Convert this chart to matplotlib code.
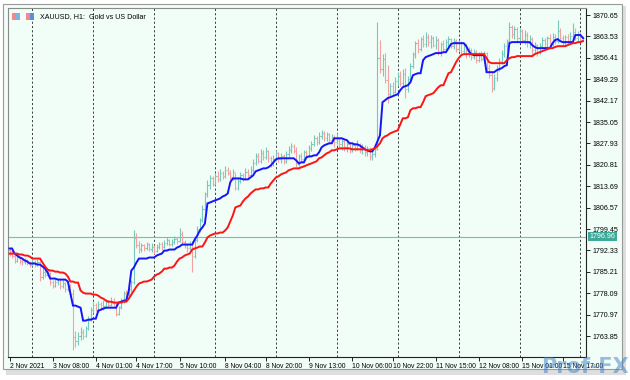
import matplotlib

matplotlib.use("Agg")

import matplotlib.pyplot as plt
import numpy as np
import pandas as pd
from matplotlib.patches import Rectangle

# --- data (XAUUSD H1, 2 Nov 15:00 .. 16 Nov 01:00) ---
first_bar = "2021-11-02 15:00"
last_bar = "2021-11-16 01:00"

opens = [
    1792.5, 1792.0, 1790.5, 1789.0, 1790.2, 1789.0, 1788.4, 1789.3, 1788.1, 1787.6,
    1788.6, 1787.9, 1788.5, 1783.5, 1785.2, 1784.1, 1785.0, 1781.8, 1780.6, 1781.9,
    1782.7, 1780.4, 1781.6, 1779.4, 1780.9, 1777.8, 1763.5, 1762.1, 1763.9, 1765.2,
    1764.0, 1766.6, 1769.8, 1772.5, 1774.2, 1772.7, 1774.6, 1773.1, 1774.0, 1775.3,
    1774.1, 1775.5, 1774.8, 1771.3, 1773.4, 1775.9, 1778.2, 1777.4, 1779.6, 1781.9,
    1796.4, 1794.3, 1792.7, 1794.0, 1793.1, 1794.4, 1792.8, 1793.6, 1792.2, 1793.5,
    1794.6, 1793.4, 1794.9, 1795.7, 1794.5, 1795.2, 1796.1, 1795.4, 1797.9, 1795.2,
    1794.0, 1793.2, 1794.4, 1790.6, 1795.8, 1799.5, 1802.4, 1806.3, 1811.0, 1814.2,
    1816.5, 1814.6, 1817.2, 1816.0, 1818.1, 1817.0, 1819.2, 1818.1, 1816.7, 1818.5,
    1813.2, 1815.6, 1817.4, 1816.1, 1818.6, 1817.5, 1819.1, 1821.6, 1823.9, 1822.2,
    1824.8, 1823.5, 1825.4, 1823.0, 1821.4, 1822.9, 1824.6, 1822.8, 1823.9, 1822.1,
    1824.3, 1825.9, 1827.1, 1825.4, 1821.2, 1823.6, 1822.8, 1825.0, 1823.9, 1826.4,
    1827.9, 1829.6, 1828.3, 1830.4, 1831.5, 1829.8, 1831.0, 1829.0, 1830.2, 1828.5,
    1829.7, 1827.6, 1828.9, 1826.7, 1827.8, 1825.9, 1827.4, 1826.2, 1827.5, 1825.8,
    1826.9, 1825.1, 1826.3, 1823.7, 1824.3, 1826.0, 1856.4, 1852.6, 1856.0, 1848.9,
    1844.5, 1847.0, 1845.2, 1848.6, 1850.4, 1847.9, 1851.2, 1846.0, 1849.5, 1853.8,
    1857.6, 1861.2, 1859.4, 1862.6, 1861.0, 1863.4, 1861.7, 1863.0, 1860.8, 1862.5,
    1858.6, 1860.9, 1859.3, 1861.6, 1862.8, 1860.5, 1862.0, 1859.4, 1861.3, 1858.7,
    1860.6, 1857.6, 1859.0, 1856.7, 1858.4, 1855.8, 1857.6, 1856.2, 1857.9, 1853.2,
    1850.6, 1846.5, 1849.8, 1852.9, 1855.4, 1857.8, 1860.3, 1862.0, 1866.8, 1864.2,
    1866.0, 1863.1, 1865.3, 1862.4, 1864.1, 1861.2, 1862.8, 1859.0, 1860.7, 1858.5,
    1860.4, 1862.5, 1860.1, 1862.9, 1861.0, 1863.5, 1862.1, 1865.4, 1863.0, 1861.6,
    1863.2, 1862.0, 1863.8, 1865.1, 1863.0, 1864.2, 1862.5,
]

closes = [
    1792.0, 1790.5, 1789.0, 1790.2, 1789.0, 1788.4, 1789.3, 1788.1, 1787.6, 1788.6,
    1787.9, 1788.5, 1783.5, 1785.2, 1784.1, 1785.0, 1781.8, 1780.6, 1781.9, 1782.7,
    1780.4, 1781.6, 1779.4, 1780.9, 1777.8, 1763.5, 1762.1, 1763.9, 1765.2, 1764.0,
    1766.6, 1769.8, 1772.5, 1774.2, 1772.7, 1774.6, 1773.1, 1774.0, 1775.3, 1774.1,
    1775.5, 1774.8, 1771.3, 1773.4, 1775.9, 1778.2, 1777.4, 1779.6, 1781.9, 1796.4,
    1794.3, 1792.7, 1794.0, 1793.1, 1794.4, 1792.8, 1793.6, 1792.2, 1793.5, 1794.6,
    1793.4, 1794.9, 1795.7, 1794.5, 1795.2, 1796.1, 1795.4, 1797.9, 1795.2, 1794.0,
    1793.2, 1794.4, 1790.6, 1795.8, 1799.5, 1802.4, 1806.3, 1811.0, 1814.2, 1816.5,
    1814.6, 1817.2, 1816.0, 1818.1, 1817.0, 1819.2, 1818.1, 1816.7, 1818.5, 1813.2,
    1815.6, 1817.4, 1816.1, 1818.6, 1817.5, 1819.1, 1821.6, 1823.9, 1822.2, 1824.8,
    1823.5, 1825.4, 1823.0, 1821.4, 1822.9, 1824.6, 1822.8, 1823.9, 1822.1, 1824.3,
    1825.9, 1827.1, 1825.4, 1821.2, 1823.6, 1822.8, 1825.0, 1823.9, 1826.4, 1827.9,
    1829.6, 1828.3, 1830.4, 1831.5, 1829.8, 1831.0, 1829.0, 1830.2, 1828.5, 1829.7,
    1827.6, 1828.9, 1826.7, 1827.8, 1825.9, 1827.4, 1826.2, 1827.5, 1825.8, 1826.9,
    1825.1, 1826.3, 1823.7, 1824.3, 1826.0, 1856.4, 1852.6, 1856.0, 1848.9, 1844.5,
    1847.0, 1845.2, 1848.6, 1850.4, 1847.9, 1851.2, 1846.0, 1849.5, 1853.8, 1857.6,
    1861.2, 1859.4, 1862.6, 1861.0, 1863.4, 1861.7, 1863.0, 1860.8, 1862.5, 1858.6,
    1860.9, 1859.3, 1861.6, 1862.8, 1860.5, 1862.0, 1859.4, 1861.3, 1858.7, 1860.6,
    1857.6, 1859.0, 1856.7, 1858.4, 1855.8, 1857.6, 1856.2, 1857.9, 1853.2, 1850.6,
    1846.5, 1849.8, 1852.9, 1855.4, 1857.8, 1860.3, 1862.0, 1866.8, 1864.2, 1866.0,
    1863.1, 1865.3, 1862.4, 1864.1, 1861.2, 1862.8, 1859.0, 1860.7, 1858.5, 1860.4,
    1862.5, 1860.1, 1862.9, 1861.0, 1863.5, 1862.1, 1865.4, 1863.0, 1861.6, 1863.2,
    1862.0, 1863.8, 1865.1, 1863.0, 1864.2, 1862.5, 1863.0,
]

highs = [
    1793.0, 1792.4, 1791.0, 1791.0, 1790.6, 1789.8, 1790.0, 1789.6, 1788.8, 1789.5,
    1789.2, 1789.4, 1788.8, 1786.5, 1786.0, 1786.3, 1785.2, 1782.5, 1782.8, 1783.3,
    1782.9, 1782.4, 1782.0, 1781.6, 1781.2, 1779.5, 1765.5, 1765.2, 1766.8, 1766.2,
    1767.3, 1770.5, 1773.6, 1775.3, 1775.0, 1775.6, 1775.2, 1775.8, 1776.2, 1776.0,
    1777.0, 1776.5, 1775.3, 1774.0, 1776.6, 1779.0, 1779.2, 1781.0, 1782.5, 1799.0,
    1798.3, 1795.5, 1794.9, 1794.6, 1795.1, 1794.9, 1794.7, 1794.0, 1794.4, 1795.3,
    1795.0, 1795.8, 1796.7, 1796.2, 1796.0, 1797.0, 1796.8, 1799.7, 1798.8, 1795.9,
    1794.8, 1795.5, 1795.6, 1796.4, 1800.6, 1803.3, 1807.4, 1811.9, 1815.7, 1817.6,
    1817.2, 1818.2, 1818.9, 1819.3, 1818.9, 1820.6, 1820.0, 1819.0, 1819.5, 1818.2,
    1816.8, 1818.6, 1818.2, 1819.8, 1819.3, 1820.4, 1822.7, 1824.8, 1824.6, 1826.1,
    1825.6, 1826.6, 1825.8, 1823.6, 1824.1, 1825.6, 1825.0, 1824.7, 1824.3, 1825.5,
    1827.1, 1828.0, 1827.6, 1826.7, 1824.5, 1824.8, 1825.9, 1825.7, 1827.4, 1828.6,
    1830.8, 1830.3, 1831.6, 1832.3, 1832.0, 1831.9, 1831.4, 1831.2, 1830.8, 1831.3,
    1830.2, 1829.8, 1829.3, 1828.9, 1828.4, 1828.3, 1828.0, 1829.0, 1828.1, 1827.7,
    1827.4, 1827.2, 1826.6, 1825.4, 1826.9, 1868.3, 1862.3, 1857.6, 1858.0, 1854.0,
    1848.2, 1848.5, 1849.9, 1851.6, 1852.0, 1852.6, 1853.0, 1850.4, 1854.6, 1858.5,
    1862.0, 1862.8, 1863.5, 1864.0, 1865.0, 1864.4, 1864.1, 1863.8, 1863.6, 1863.1,
    1861.7, 1862.2, 1862.6, 1863.7, 1863.0, 1862.9, 1862.6, 1862.3, 1862.0, 1861.5,
    1861.2, 1860.1, 1859.8, 1859.4, 1859.1, 1858.5, 1858.7, 1858.8, 1858.4, 1854.5,
    1852.0, 1851.0, 1854.0, 1856.5, 1858.9, 1861.2, 1862.8, 1868.3, 1867.5, 1867.0,
    1866.8, 1866.2, 1866.0, 1865.6, 1865.1, 1863.9, 1863.5, 1861.8, 1861.1, 1861.2,
    1863.4, 1863.0, 1863.8, 1864.2, 1864.6, 1864.3, 1869.0, 1866.2, 1864.0, 1864.1,
    1864.5, 1864.9, 1868.0, 1866.5, 1865.2, 1864.9, 1863.8,
]

lows = [
    1790.5, 1789.8, 1788.2, 1788.5, 1788.0, 1787.5, 1787.9, 1787.4, 1786.8, 1787.2,
    1786.9, 1787.3, 1782.3, 1783.0, 1783.4, 1783.7, 1781.0, 1779.7, 1780.1, 1780.9,
    1779.6, 1779.8, 1778.5, 1778.8, 1777.0, 1759.3, 1760.3, 1761.0, 1762.6, 1762.8,
    1763.5, 1765.9, 1768.8, 1771.6, 1772.1, 1772.0, 1772.4, 1772.6, 1773.2, 1773.4,
    1773.8, 1773.9, 1770.6, 1770.9, 1772.8, 1775.0, 1776.1, 1776.8, 1778.6, 1781.3,
    1793.1, 1791.5, 1791.9, 1792.0, 1792.5, 1792.0, 1791.8, 1791.2, 1791.8, 1792.9,
    1792.6, 1793.0, 1794.0, 1793.8, 1793.9, 1794.6, 1794.5, 1795.0, 1794.5, 1793.0,
    1791.8, 1792.5, 1785.2, 1789.9, 1795.1, 1798.6, 1801.8, 1805.6, 1810.2, 1812.9,
    1813.8, 1814.0, 1815.2, 1815.4, 1816.1, 1816.5, 1817.3, 1815.9, 1815.8, 1812.3,
    1812.6, 1814.7, 1815.3, 1815.7, 1816.6, 1816.9, 1818.4, 1820.8, 1821.3, 1821.5,
    1822.6, 1822.9, 1821.8, 1820.2, 1820.6, 1822.1, 1821.9, 1821.4, 1821.0, 1821.6,
    1823.4, 1824.9, 1824.6, 1820.0, 1820.5, 1821.7, 1822.0, 1823.0, 1823.5, 1825.4,
    1827.0, 1827.5, 1827.9, 1829.5, 1828.9, 1828.7, 1827.6, 1828.1, 1826.9, 1827.8,
    1826.5, 1825.9, 1825.4, 1825.0, 1824.7, 1825.2, 1825.3, 1825.6, 1824.6, 1824.3,
    1823.8, 1823.9, 1822.4, 1822.3, 1823.5, 1825.6, 1851.3, 1850.5, 1848.1, 1841.3,
    1843.4, 1844.0, 1844.6, 1847.2, 1847.0, 1846.8, 1843.0, 1845.1, 1848.4, 1852.9,
    1856.4, 1858.0, 1858.6, 1859.9, 1860.1, 1860.4, 1859.6, 1859.9, 1859.5, 1857.4,
    1857.0, 1858.2, 1858.5, 1860.1, 1859.6, 1859.2, 1858.4, 1858.6, 1857.5, 1857.9,
    1856.5, 1856.8, 1855.8, 1855.9, 1854.7, 1855.1, 1855.3, 1855.4, 1852.0, 1849.6,
    1845.0, 1845.7, 1848.6, 1851.9, 1854.4, 1856.6, 1858.7, 1860.9, 1863.1, 1862.8,
    1861.7, 1862.0, 1861.3, 1861.0, 1860.0, 1859.6, 1857.4, 1857.6, 1857.0, 1857.8,
    1859.5, 1858.9, 1859.4, 1859.6, 1860.5, 1860.9, 1861.3, 1862.1, 1860.2, 1860.5,
    1861.0, 1861.2, 1862.3, 1862.3, 1862.0, 1861.6, 1861.9,
]

# blue (fast) and red (slow) indicator lines
blue_line = [
    1793.0, 1793.0, 1791.3, 1790.65, 1790.0, 1789.65, 1789.0, 1788.65, 1788.0, 1788.0,
    1788.0, 1787.65, 1787.65, 1787.0, 1786.3, 1785.0, 1783.0, 1783.0, 1783.0, 1782.65,
    1782.65, 1782.65, 1782.65, 1782.0, 1778.0, 1774.0, 1774.0, 1773.65, 1773.3, 1769.0,
    1769.0, 1769.3, 1769.3, 1769.65, 1769.65, 1772.3, 1772.65, 1773.0, 1773.3, 1773.3,
    1773.3, 1773.3, 1773.3, 1775.0, 1775.3, 1775.65, 1775.65, 1779.0, 1785.65, 1786.65,
    1788.3, 1789.65, 1789.65, 1789.65, 1789.65, 1790.0, 1790.0, 1790.0, 1790.65, 1791.0,
    1791.3, 1792.3, 1792.3, 1792.65, 1792.65, 1792.65, 1793.3, 1793.65, 1794.3, 1794.3,
    1794.3, 1794.3, 1794.3, 1796.0, 1797.3, 1799.0, 1800.0, 1801.3, 1808.0, 1808.3,
    1808.65, 1809.0, 1809.3, 1809.65, 1810.3, 1810.65, 1811.3, 1815.0, 1816.3, 1816.3,
    1816.3, 1816.3, 1816.0, 1816.0, 1816.0, 1816.65, 1817.3, 1818.65, 1819.0, 1819.3,
    1819.65, 1819.65, 1820.0, 1820.65, 1821.65, 1822.65, 1823.0, 1823.0, 1823.0, 1823.0,
    1823.0, 1823.0, 1823.0, 1822.3, 1821.3, 1821.65, 1821.65, 1823.3, 1823.65, 1823.65,
    1824.0, 1824.0, 1825.0, 1826.65, 1827.3, 1827.65, 1828.0, 1828.0, 1829.65, 1829.65,
    1829.65, 1829.65, 1829.3, 1829.0, 1828.0, 1828.0, 1827.65, 1827.65, 1827.3, 1826.65,
    1826.0, 1825.65, 1825.3, 1825.3, 1826.65, 1828.65, 1830.65, 1841.65, 1842.3, 1843.0,
    1843.3, 1843.65, 1844.0, 1844.3, 1845.65, 1846.65, 1847.0, 1847.3, 1848.3, 1850.65,
    1851.0, 1851.3, 1851.3, 1855.65, 1856.65, 1857.0, 1857.3, 1857.65, 1858.0, 1858.0,
    1858.0, 1858.3, 1858.3, 1859.65, 1861.0, 1861.3, 1861.3, 1861.3, 1861.3, 1861.3,
    1860.3, 1858.65, 1857.65, 1857.3, 1857.3, 1857.3, 1857.3, 1857.3, 1851.65, 1851.65,
    1851.65, 1851.65, 1852.3, 1852.65, 1853.0, 1853.65, 1854.0, 1861.3, 1861.65, 1861.65,
    1861.65, 1861.65, 1861.65, 1861.65, 1861.65, 1861.65, 1860.65, 1860.0, 1859.65, 1859.65,
    1859.65, 1859.65, 1859.65, 1859.65, 1861.3, 1862.3, 1862.65, 1862.0, 1861.65, 1861.65,
    1861.65, 1861.65, 1861.65, 1864.0, 1864.0, 1864.0, 1863.0,
]

red_line = [
    1791.3, 1791.3, 1791.3, 1791.3, 1791.0, 1791.0, 1790.65, 1790.65, 1790.3, 1789.65,
    1789.65, 1789.65, 1789.65, 1788.3, 1787.0, 1786.0, 1785.65, 1785.65, 1785.3, 1785.3,
    1785.0, 1785.0, 1784.65, 1783.65, 1782.0, 1782.0, 1781.65, 1781.65, 1779.0, 1778.3,
    1778.0, 1778.0, 1778.0, 1777.65, 1777.65, 1777.3, 1776.65, 1776.3, 1775.65, 1775.3,
    1775.3, 1775.0, 1775.0, 1775.0, 1775.0, 1775.3, 1775.3, 1776.3, 1777.65, 1779.0,
    1780.3, 1781.3, 1781.65, 1782.0, 1782.0, 1782.3, 1782.65, 1783.65, 1784.3, 1784.65,
    1785.3, 1786.3, 1786.3, 1786.65, 1786.65, 1787.3, 1788.65, 1789.65, 1790.0, 1790.65,
    1791.0, 1791.3, 1792.65, 1793.0, 1793.3, 1793.65, 1793.65, 1795.0, 1796.65, 1797.3,
    1797.65, 1798.0, 1798.0, 1798.3, 1798.3, 1799.0, 1800.0, 1802.0, 1804.0, 1806.65,
    1807.0, 1807.3, 1808.65, 1809.65, 1810.3, 1811.3, 1812.0, 1812.65, 1812.65, 1813.0,
    1813.0, 1813.3, 1813.3, 1814.65, 1815.65, 1816.65, 1817.0, 1817.65, 1818.0, 1818.3,
    1819.0, 1819.3, 1819.65, 1819.65, 1819.65, 1820.0, 1820.3, 1820.65, 1821.0, 1821.3,
    1821.65, 1822.0, 1823.0, 1823.3, 1824.0, 1824.65, 1825.0, 1825.65, 1825.65, 1826.0,
    1826.3, 1826.3, 1826.3, 1826.3, 1826.3, 1826.0, 1826.0, 1826.0, 1826.0, 1826.0,
    1826.0, 1825.65, 1825.65, 1826.0, 1826.3, 1827.0, 1828.0, 1829.65, 1830.3, 1830.65,
    1831.3, 1831.65, 1832.0, 1832.3, 1834.3, 1836.3, 1836.3, 1836.65, 1839.0, 1839.65,
    1839.65, 1840.0, 1840.0, 1841.65, 1843.65, 1844.0, 1844.3, 1844.65, 1845.65, 1846.65,
    1847.3, 1847.3, 1849.3, 1851.3, 1851.65, 1853.3, 1855.0, 1856.3, 1857.3, 1857.65,
    1857.65, 1857.65, 1857.65, 1857.65, 1857.65, 1857.65, 1857.65, 1857.65, 1856.3, 1855.0,
    1854.65, 1854.65, 1854.65, 1854.65, 1854.65, 1854.65, 1855.65, 1856.3, 1856.65, 1856.65,
    1857.0, 1857.0, 1857.0, 1857.0, 1857.0, 1857.0, 1857.0, 1857.65, 1858.0, 1858.3,
    1858.65, 1859.0, 1859.3, 1859.65, 1859.65, 1860.0, 1860.3, 1860.3, 1860.3, 1860.3,
    1860.65, 1861.0, 1861.3, 1861.3, 1861.65, 1861.65, 1862.0,
]

price_ticks = [
    1763.85, 1770.97, 1778.09, 1785.21, 1792.33, 1799.45, 1806.57, 1813.69,
    1820.81, 1827.93, 1835.05, 1842.17, 1849.29, 1856.41, 1863.53, 1870.65,
]
price_range = (1756.9, 1873.0)
hline_price = 1796.96

time_ticks = [
    "2021-11-02 15:00", "2021-11-03 08:00", "2021-11-04 01:00", "2021-11-04 17:00",
    "2021-11-05 10:00", "2021-11-08 04:00", "2021-11-08 20:00", "2021-11-09 13:00",
    "2021-11-10 06:00", "2021-11-10 22:00", "2021-11-11 15:00", "2021-11-12 08:00",
    "2021-11-15 01:00", "2021-11-15 17:00",
]
time_labels = [
    "2 Nov 2021", "3 Nov 08:00", "4 Nov 01:00", "4 Nov 17:00", "5 Nov 10:00",
    "8 Nov 04:00", "8 Nov 20:00", "9 Nov 13:00", "10 Nov 06:00", "10 Nov 22:00",
    "11 Nov 15:00", "12 Nov 08:00", "15 Nov 01:00", "15 Nov 17:00",
]

title = "XAUUSD, H1:  Gold vs US Dollar"

BG = "#f1fdf7"
BULL = "#74c9ba"
BEAR = "#f3a2a2"
FONT = "Liberation Sans"
LABEL_SIZE = 4.9


def bar_times() -> pd.DatetimeIndex:
    """Hourly bar timestamps, weekends skipped."""
    idx = pd.date_range(first_bar, last_bar, freq="h")
    return idx[idx.dayofweek < 5]


def draw_bars(ax, x: np.ndarray) -> None:
    """OHLC bars: high-low stem, open tick left, close tick right."""
    o, h, l, c = (np.asarray(v) for v in (opens, highs, lows, closes))
    colors = np.where(c >= o, BULL, BEAR)
    ax.vlines(x, l, h, colors=colors, linewidth=0.8, zorder=2)
    ax.hlines(o, x - 0.45, x, colors=colors, linewidth=0.8, zorder=2)
    ax.hlines(c, x, x + 0.45, colors=colors, linewidth=0.8, zorder=2)


times = bar_times()
x = np.arange(len(times))

fig = plt.figure(figsize=(6.3, 3.8), dpi=100)
fig.patch.set_facecolor("white")
W, H = 630.0, 380.0

# terminal window frame + soft shadow (kept behind the axes)
fig.patches.append(Rectangle((6 / W, 1 - 375 / H), 620 / W, 369 / H,
                             transform=fig.transFigure, facecolor="#c8c8c8",
                             edgecolor="none", alpha=0.6, zorder=-2))
fig.patches.append(Rectangle((3 / W, 1 - 369 / H), 619 / W, 365 / H,
                             transform=fig.transFigure, facecolor=BG,
                             edgecolor="#9a9a9a", linewidth=0.8, zorder=-1))

ax = fig.add_axes([8 / W, 1 - 357 / H, 578 / W, 349 / H])
ax.set_zorder(1)
ax.set_facecolor(BG)

# day separators
day_starts = np.flatnonzero(np.r_[False, np.diff(times.normalize().asi8) != 0])
for d in day_starts:
    ax.axvline(d, color="#3c3c3c", linewidth=0.7, linestyle=(0, (2.2, 2.2)), zorder=1)

draw_bars(ax, x)
ax.axhline(hline_price, color="#6cc2b4", linewidth=0.8, zorder=1.5)
ax.plot(x, blue_line, color="#1414ff", linewidth=1.4, zorder=3,
        solid_joinstyle="miter")
ax.plot(x, red_line, color="#ff1414", linewidth=1.4, zorder=4,
        solid_joinstyle="miter")

ax.set_xlim(-0.6, len(x) + 0.2)
ax.set_ylim(*price_range)

tick_pos = [times.get_loc(pd.Timestamp(t)) for t in time_ticks]
ax.set_xticks(tick_pos)
ax.set_xticklabels(time_labels, fontsize=LABEL_SIZE, family=FONT, ha="left")
ax.tick_params(axis="x", direction="out", length=3, width=0.7, pad=1.5,
               color="#222222")

ax.yaxis.tick_right()
ax.set_yticks(price_ticks)
ax.set_yticklabels([f"{p:.2f}" for p in price_ticks], fontsize=LABEL_SIZE + 0.2,
                   family=FONT)
ax.tick_params(axis="y", direction="out", length=3, width=0.7, pad=1.5,
               color="#222222")

for side in ("left", "top"):
    ax.spines[side].set_color("#8a8a8a")
    ax.spines[side].set_linewidth(0.8)
for side in ("right", "bottom"):
    ax.spines[side].set_color("#222222")
    ax.spines[side].set_linewidth(0.8)

ax.annotate(f"{hline_price:.2f}", xy=(1.0, hline_price),
            xycoords=("axes fraction", "data"), xytext=(2.5, 0),
            textcoords="offset points", ha="left", va="center",
            fontsize=LABEL_SIZE + 0.2, family=FONT, color="white",
            bbox=dict(boxstyle="square,pad=0.2", fc="#3fa898", ec="none"))

# title and small chart icons
ax.text(32 / 578, 1 - 8.5 / 349, title, transform=ax.transAxes,
        fontsize=LABEL_SIZE + 0.2, family=FONT, ha="left", va="center")
for x0, cols in ((12, ("#f08a8a", "#7fb0e8")), (26, ("#f08a8a", "#5b8fdc"))):
    fig.patches.append(Rectangle((x0 / W, 1 - 20 / H), 4 / W, 7 / H,
                                 transform=fig.transFigure, fc=cols[0], ec="none",
                                 zorder=5))
    fig.patches.append(Rectangle(((x0 + 4) / W, 1 - 20 / H), 4 / W, 7 / H,
                                 transform=fig.transFigure, fc=cols[1], ec="none",
                                 zorder=5))

# watermark
fig.text(629 / W, 3 / H, "Prof-FX", fontsize=15, fontweight="bold",
         color="#3f7fc6", alpha=0.5, ha="right", va="bottom",
         family="DejaVu Sans", zorder=10)

fig.savefig("out.png", dpi=100, facecolor=fig.get_facecolor())
